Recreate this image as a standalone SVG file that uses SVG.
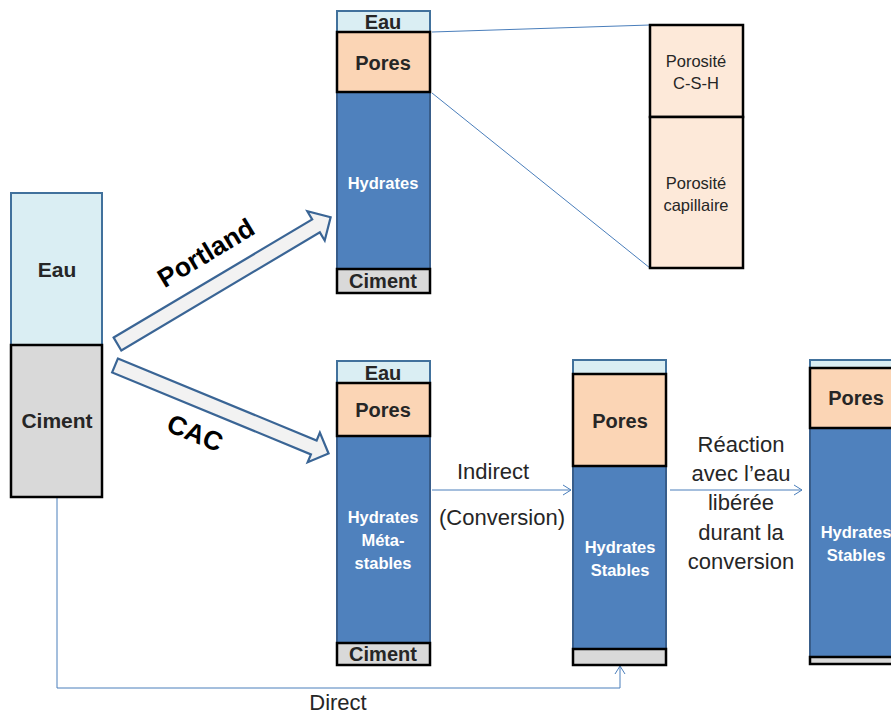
<svg xmlns="http://www.w3.org/2000/svg" width="891" height="715" viewBox="0 0 891 715">
<defs>
<style>
.eau{fill:#DAEEF3;stroke:#41719C;stroke-width:2}
.pores{fill:#FBD5B5;stroke:#000;stroke-width:2.5}
.hyd{fill:#4F81BD;stroke:#385D8A;stroke-width:2}
.cim{fill:#D9D9D9;stroke:#000;stroke-width:2.5}
.poro{fill:#FDE9D9;stroke:#000;stroke-width:2.5}
.blk{fill:#F2F2F2;stroke:#3A6595;stroke-width:2.2;stroke-linejoin:miter}
.ln{fill:none;stroke:#4A7EBB;stroke-width:1}
text{font-family:"Liberation Sans",Arial,sans-serif;text-anchor:middle;fill:#262626}
.b{font-weight:bold;font-size:20px}
.bw{font-weight:bold;font-size:16.5px;fill:#fff}
.r{font-size:22px}
.rs{font-size:16.5px}
.big{font-weight:bold;font-size:26.5px;fill:#000}
</style>
<marker id="chev" markerUnits="userSpaceOnUse" markerWidth="12" markerHeight="12" refX="9" refY="6" orient="auto">
<path d="M1,1 L9,6 L1,11" fill="none" stroke="#4A7EBB" stroke-width="1"/>
</marker>
</defs>
<rect width="891" height="715" fill="#fff"/>

<g id="connectors">
<polygon class="blk" transform="translate(117.5,344) rotate(-30.75)" points="0,-7.5 231,-7.5 231,-17 248,0 231,17 231,7.5 0,7.5"/>
<polygon class="blk" transform="translate(115,365.5) rotate(22.4)" points="0,-7.5 215,-7.5 215,-16 231,0 215,16 215,7.5 0,7.5"/>
<text class="big" transform="translate(206,253) rotate(-31)" y="9">Portland</text>
<text class="big" transform="translate(195,433) rotate(22.4)" y="9">CAC</text>
<line class="ln" x1="432" y1="32" x2="650" y2="25"/>
<line class="ln" x1="432" y1="93" x2="650" y2="268"/>
<line class="ln" x1="432" y1="490" x2="571" y2="490" marker-end="url(#chev)"/>
<text class="r" x="493" y="479">Indirect</text>
<text class="r" x="502" y="525">(Conversion)</text>
<line class="ln" x1="670" y1="490" x2="802" y2="490" marker-end="url(#chev)"/>
<text class="r" x="741" y="452">Réaction</text>
<text class="r" x="741" y="481">avec l’eau</text>
<text class="r" x="741" y="510">libérée</text>
<text class="r" x="741" y="540">durant la</text>
<text class="r" x="741" y="569">conversion</text>
<polyline class="ln" points="57,497 57,688 620,688 620,666" marker-end="url(#chev)"/>
<text class="r" x="338" y="710">Direct</text>
</g>

<g id="melange">
<rect class="eau" x="11" y="193" width="91" height="152"/>
<rect class="cim" x="11" y="345" width="91" height="152"/>
<text class="b" x="57" y="277" style="font-size:21px">Eau</text>
<text class="b" x="57" y="428" style="font-size:21px">Ciment</text>
</g>

<g id="portland">
<rect class="eau" x="337" y="11" width="93" height="21"/>
<rect class="hyd" x="337" y="92" width="93" height="177"/>
<rect class="pores" x="337" y="32" width="93" height="60"/>
<rect class="cim" x="337" y="269" width="93" height="24"/>
<text class="b" x="383" y="29">Eau</text>
<text class="b" x="383" y="70">Pores</text>
<text class="bw" x="383" y="189">Hydrates</text>
<text class="b" x="383" y="288">Ciment</text>
</g>

<g id="porosite">
<rect class="poro" x="650" y="25" width="93" height="92"/>
<rect class="poro" x="650" y="117" width="93" height="151"/>
<text class="rs" x="696" y="67">Porosité</text>
<text class="rs" x="696" y="89">C-S-H</text>
<text class="rs" x="696" y="189">Porosité</text>
<text class="rs" x="696" y="211">capillaire</text>
</g>

<g id="cac-metastable">
<rect class="eau" x="337" y="361" width="93" height="22"/>
<rect class="hyd" x="337" y="436" width="93" height="207"/>
<rect class="pores" x="337" y="383" width="93" height="53"/>
<rect class="cim" x="337" y="643" width="93" height="22"/>
<text class="b" x="383" y="380">Eau</text>
<text class="b" x="383" y="417">Pores</text>
<text class="bw" x="383" y="523">Hydrates</text>
<text class="bw" x="383" y="546">Méta-</text>
<text class="bw" x="383" y="569">stables</text>
<text class="b" x="383" y="661">Ciment</text>
</g>

<g id="cac-stable">
<rect class="eau" x="573" y="360" width="93" height="14"/>
<rect class="hyd" x="573" y="466" width="93" height="183"/>
<rect class="pores" x="573" y="374" width="93" height="92"/>
<rect class="cim" x="573" y="649" width="93" height="16"/>
<text class="b" x="620" y="428">Pores</text>
<text class="bw" x="620" y="553">Hydrates</text>
<text class="bw" x="620" y="576">Stables</text>
</g>

<g id="cac-final">
<rect class="eau" x="810" y="360" width="93" height="8"/>
<rect class="hyd" x="810" y="428" width="93" height="229"/>
<rect class="pores" x="810" y="368" width="93" height="60"/>
<rect class="cim" x="810" y="657" width="93" height="7"/>
<text class="b" x="856" y="405">Pores</text>
<text class="bw" x="856" y="538">Hydrates</text>
<text class="bw" x="856" y="561">Stables</text>
</g>
</svg>
